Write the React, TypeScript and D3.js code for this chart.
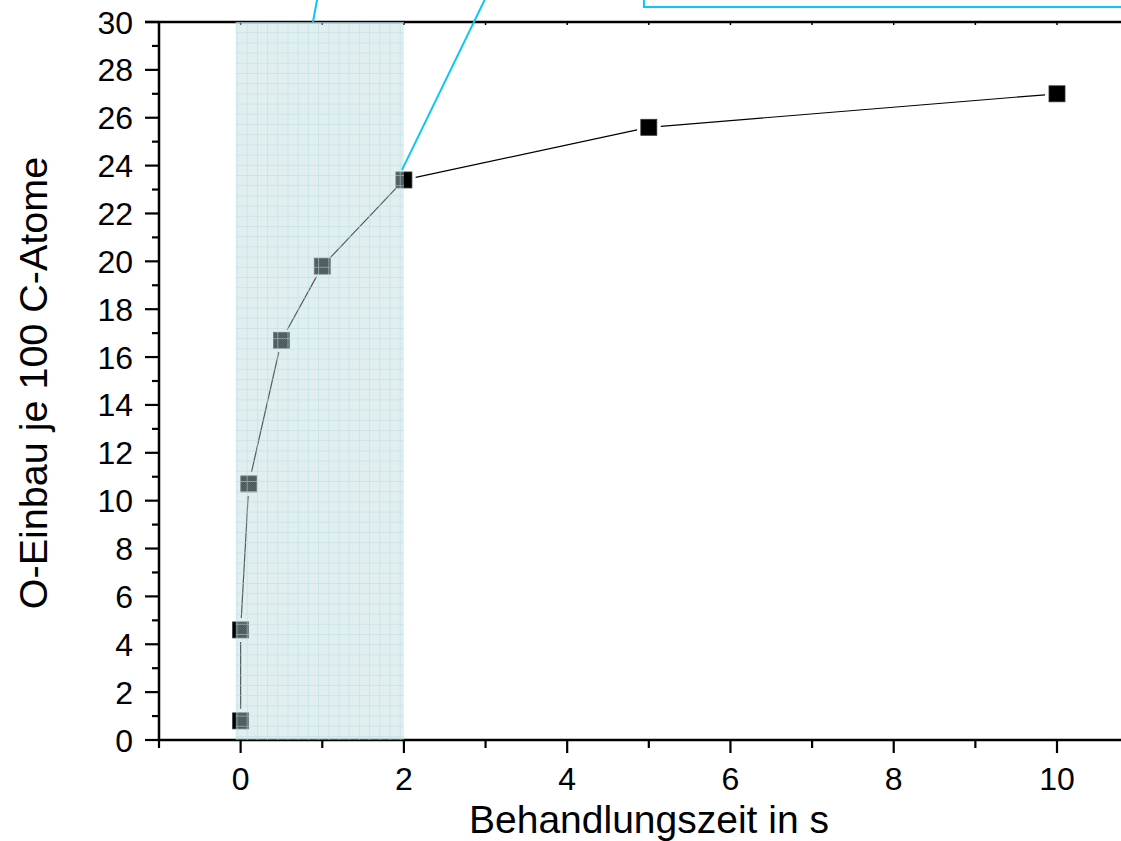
import React, { useEffect, useRef } from 'react'
import * as d3 from 'd3'

// measured series
const timeValues = [0, 0, 0.1, 0.5, 1, 2, 5, 10]
const oxygenValues = [0.8, 4.6, 10.7, 16.7, 19.8, 23.4, 25.6, 27]

const xTickLabels = [0, 2, 4, 6, 8, 10]
const yTickLabels = [0, 2, 4, 6, 8, 10, 12, 14, 16, 18, 20, 22, 24, 26, 28, 30]

// zoomed region [x from, x to] in data units
const zoomRange = [-0.06, 2]
// connector lines to the inset (data units, they leave the top of the frame)
const connectorA = [[0.886, 30], [0.94, 31]]
const connectorB = [[1.977, 23.82], [3.0, 31]]
const insetCorner = [4.94, 30.63]

const W = 1121
const H = 841
const FONT = '"Liberation Sans", Arial, sans-serif'

const App = () => {
  const svgRef = useRef(null)

  useEffect(() => {
    const svg = d3.select(svgRef.current)
    svg.selectAll('*').remove()

    const x = d3.scaleLinear().domain([-1, 10]).range([159, 1057])
    const y = d3.scaleLinear().domain([0, 30]).range([740, 22])
    const xEnd = W + 5

    const defs = svg.append('defs')
    const pat = defs.append('pattern')
      .attr('id', 'zoomgrid')
      .attr('patternUnits', 'userSpaceOnUse')
      .attr('x', 236.5).attr('y', 22)
      .attr('width', 10.2).attr('height', 10.2)
    pat.append('path')
      .attr('d', 'M0,0.5H10.2M0.5,0V10.2')
      .attr('stroke', '#b4dde0')
      .attr('stroke-width', 1)
      .attr('stroke-opacity', 0.55)
      .attr('fill', 'none')
    const chk = defs.append('pattern')
      .attr('id', 'checker')
      .attr('patternUnits', 'userSpaceOnUse')
      .attr('width', 2).attr('height', 2)
    chk.append('rect').attr('width', 1).attr('height', 1).attr('fill', '#ffffff').attr('opacity', 0.06)
    chk.append('rect').attr('x', 1).attr('y', 1).attr('width', 1).attr('height', 1).attr('fill', '#ffffff').attr('opacity', 0.06)

    // axes frame
    const axes = svg.append('g').attr('stroke', '#000').attr('stroke-width', 2.5)
    axes.append('line').attr('x1', x(-1)).attr('x2', x(-1)).attr('y1', y(30)).attr('y2', y(0))
    axes.append('line').attr('x1', x(-1) - 1).attr('x2', xEnd).attr('y1', y(0)).attr('y2', y(0))
    axes.append('line').attr('x1', x(-1) - 14).attr('x2', xEnd).attr('y1', y(30)).attr('y2', y(30))

    // y ticks
    const ticks = svg.append('g').attr('stroke', '#000').attr('stroke-width', 2.2)
    d3.range(0, 31).forEach(v => {
      const major = v % 2 === 0
      ticks.append('line')
        .attr('x1', x(-1)).attr('x2', x(-1) - (major ? 14 : 7))
        .attr('y1', y(v)).attr('y2', y(v))
    })
    // x ticks, bottom outward, top small inward
    d3.range(-1, 12).forEach(v => {
      const major = v % 2 === 0
      ticks.append('line')
        .attr('x1', x(v)).attr('x2', x(v))
        .attr('y1', y(0)).attr('y2', y(0) + (major ? 13 : 8))
      ticks.append('line')
        .attr('x1', x(v)).attr('x2', x(v))
        .attr('y1', y(30)).attr('y2', y(30) + 3)
        .attr('stroke-width', 1.5)
    })

    svg.append('g').selectAll('text').data(yTickLabels).join('text')
      .attr('x', 133).attr('y', d => y(d)).attr('dy', '0.36em')
      .attr('text-anchor', 'end')
      .attr('font-family', FONT).attr('font-size', 32)
      .text(d => d)
    svg.append('g').selectAll('text').data(xTickLabels).join('text')
      .attr('x', d => x(d)).attr('y', 790)
      .attr('text-anchor', 'middle')
      .attr('font-family', FONT).attr('font-size', 32)
      .text(d => d)

    svg.append('text')
      .attr('x', 649).attr('y', 833)
      .attr('text-anchor', 'middle')
      .attr('font-family', FONT).attr('font-size', 39)
      .text('Behandlungszeit in s')
    svg.append('text')
      .attr('transform', 'translate(47,383) rotate(-90)')
      .attr('text-anchor', 'middle')
      .attr('font-family', FONT).attr('font-size', 39.5)
      .text('O-Einbau je 100 C-Atome')

    // connecting line with gaps at the markers
    const pts = timeValues.map((t, i) => [x(t), y(oxygenValues[i])])
    const gap = 12
    const segs = svg.append('g').attr('stroke', '#000').attr('stroke-width', 1.2)
    for (let i = 0; i < pts.length - 1; i++) {
      const [x1, y1] = pts[i]
      const [x2, y2] = pts[i + 1]
      const len = Math.hypot(x2 - x1, y2 - y1)
      if (len <= gap * 2) continue
      const ux = (x2 - x1) / len
      const uy = (y2 - y1) / len
      segs.append('line')
        .attr('x1', x1 + ux * gap).attr('y1', y1 + uy * gap)
        .attr('x2', x2 - ux * gap).attr('y2', y2 - uy * gap)
    }

    svg.append('g').selectAll('rect').data(pts).join('rect')
      .attr('x', d => d[0] - 8).attr('y', d => d[1] - 8)
      .attr('width', 16).attr('height', 16)
      .attr('fill', '#000')
      .attr('stroke', '#333').attr('stroke-width', 0.8)

    // zoom overlay
    const zx0 = x(zoomRange[0])
    const zw = x(zoomRange[1]) - zx0
    const ov = svg.append('g')
    ov.append('rect')
      .attr('x', zx0).attr('y', y(30)).attr('width', zw).attr('height', y(0) - y(30))
      .attr('fill', 'rgb(182,214,218)').attr('fill-opacity', 0.42)
    ov.append('rect')
      .attr('x', zx0).attr('y', y(30)).attr('width', zw).attr('height', y(0) - y(30))
      .attr('fill', 'url(#checker)')
    ov.append('rect')
      .attr('x', zx0).attr('y', y(30)).attr('width', zw).attr('height', y(0) - y(30))
      .attr('fill', 'url(#zoomgrid)')

    // inset connectors
    const cyan = '#0cc6f4'
    const conn = svg.append('g').attr('stroke', cyan).attr('stroke-width', 2).attr('fill', 'none')
    ;[connectorA, connectorB].forEach(c => {
      conn.append('line')
        .attr('x1', x(c[0][0])).attr('y1', y(c[0][1]))
        .attr('x2', x(c[1][0])).attr('y2', y(c[1][1]))
    })
    conn.append('path')
      .attr('d', `M${x(insetCorner[0])},-5V${y(insetCorner[1])}H${xEnd}`)
  }, [])

  return (
    <svg
      ref={svgRef}
      width={W}
      height={H}
      style={{ position: 'absolute', left: 0, top: 0, background: '#fff', display: 'block' }}
    />
  )
}

export default App
